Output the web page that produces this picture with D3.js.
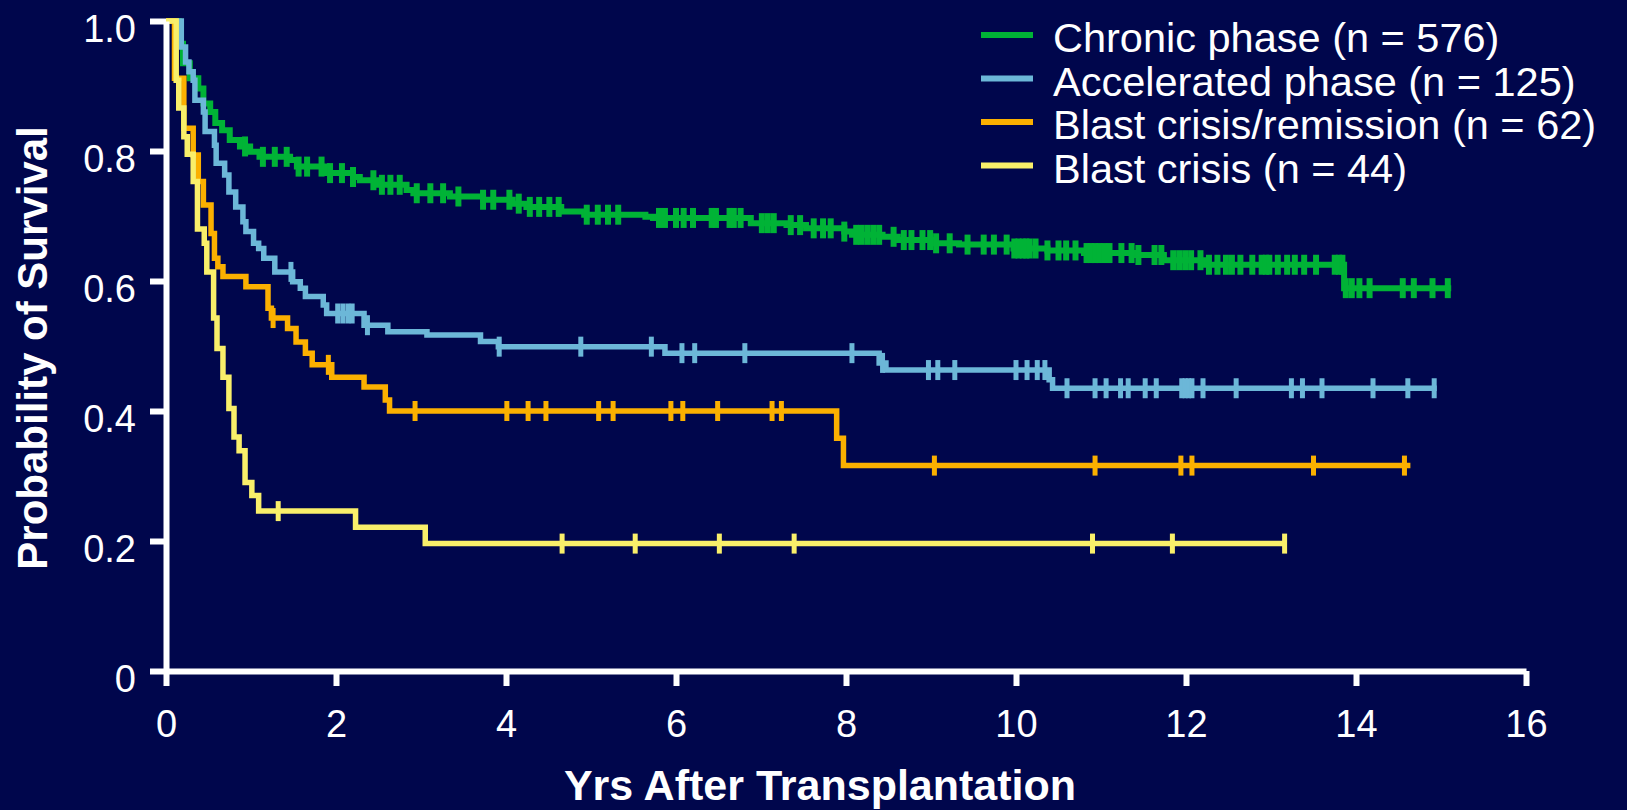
<!DOCTYPE html>
<html>
<head>
<meta charset="utf-8">
<script src="https://cdn.jsdelivr.net/npm/d3@7"></script>
<style>
  html, body { margin: 0; padding: 0; background: #00064c; }
  svg { display: block; }
  text { font-family: Arial, "Liberation Sans", sans-serif; fill: #fff; }
</style>
</head>
<body>
<svg width="1627" height="810"></svg>
<script>
// Kaplan-Meier curves, values (years, probability)
var seriesNames = ["Chronic phase (n = 576)", "Accelerated phase (n = 125)",
                   "Blast crisis/remission (n = 62)", "Blast crisis (n = 44)"];
var seriesColors = ["#00b336", "#6cb7d8", "#fbb000", "#f9ef6a"];

// chronic phase
var chronicT = [0.15, 0.2, 0.28, 0.38, 0.44, 0.52, 0.58, 0.66, 0.75, 0.87, 0.99, 1.1, 1.46, 1.54, 1.89,
                2.2, 2.28, 2.48, 2.83, 2.91, 3.34, 3.73, 4.08, 4.24, 4.65, 4.92, 5.64, 5.73, 6.88, 7.3,
                7.53, 7.98, 8.07, 8.43, 8.61, 9.02, 9.33, 9.97, 10.37, 10.8, 11.4, 11.74, 12.22, 13.86];
var chronicS = [0.965, 0.935, 0.912, 0.896, 0.873, 0.86, 0.843, 0.832, 0.817, 0.807, 0.799, 0.791, 0.786, 0.776, 0.766,
                0.76, 0.755, 0.748, 0.74, 0.735, 0.73, 0.725, 0.719, 0.714, 0.707, 0.702, 0.699, 0.697, 0.689, 0.686,
                0.681, 0.676, 0.671, 0.668, 0.663, 0.658, 0.656, 0.65, 0.647, 0.643, 0.64, 0.632, 0.625, 0.589];
var chronicCens = [0.93, 1.14, 1.28, 1.42, 1.56, 1.66, 1.83, 1.93, 2.07, 2.2, 2.44, 2.54, 2.64, 2.75, 2.95, 3.11,
                   3.26, 3.44, 3.73, 3.85, 4.04, 4.15, 4.28, 4.39, 4.51, 4.62, 4.95, 5.08, 5.2, 5.32, 5.8, 5.87,
                   6.0, 6.09, 6.2, 6.42, 6.47, 6.63, 6.68, 6.76, 7.01, 7.08, 7.15, 7.35, 7.46, 7.62, 7.73, 7.82,
                   7.98, 8.12, 8.18, 8.25, 8.32, 8.39, 8.56, 8.68, 8.77, 8.9, 8.99, 9.06, 9.22, 9.43, 9.62, 9.74,
                   9.89, 9.98, 10.03, 10.08, 10.12, 10.16, 10.23, 10.37, 10.5, 10.59, 10.7, 10.83, 10.88, 10.93,
                   10.98, 11.04, 11.1, 11.24, 11.36, 11.44, 11.63, 11.71, 11.85, 11.92, 11.99, 12.06, 12.17,
                   12.27, 12.37, 12.47, 12.54, 12.64, 12.78, 12.89, 12.94, 12.98, 13.08, 13.19, 13.28, 13.39,
                   13.53, 13.75, 13.8, 13.84, 13.88, 13.95, 14.04, 14.16, 14.55, 14.68, 14.9, 15.08];
var chronicEnd = 15.12;

// accelerated phase
var accelT = [0.18, 0.23, 0.27, 0.32, 0.34, 0.44, 0.46, 0.57, 0.59, 0.69, 0.74, 0.82, 0.905, 0.94, 1.03, 1.09,
              1.15, 1.28, 1.49, 1.58, 1.64, 1.85, 1.89, 2.33, 2.61, 3.07, 3.7, 3.91, 5.87, 8.39, 8.47, 10.39, 10.43];
var accelS = [0.96, 0.937, 0.922, 0.909, 0.878, 0.86, 0.83, 0.809, 0.781, 0.763, 0.737, 0.714, 0.691, 0.676, 0.658, 0.65,
              0.635, 0.614, 0.599, 0.589, 0.576, 0.563, 0.55, 0.532, 0.522, 0.517, 0.507, 0.499, 0.489, 0.474, 0.463, 0.448, 0.435];
var accelCens = [1.47, 2.02, 2.08, 2.14, 2.19, 2.37, 3.92, 4.88, 5.71, 6.07, 6.22, 6.81, 8.07, 8.43, 8.97, 9.08,
                 9.28, 10.0, 10.13, 10.25, 10.34, 10.6, 10.93, 11.06, 11.23, 11.32, 11.52, 11.65, 11.95, 11.99,
                 12.03, 12.07, 12.2, 12.59, 13.24, 13.37, 13.6, 14.2, 14.61, 14.92];
var accelEnd = 14.95;

// blast crisis / remission
var remisT = [0.1, 0.21, 0.32, 0.38, 0.44, 0.53, 0.57, 0.61, 0.67, 0.94, 1.2, 1.24, 1.43, 1.53, 1.64, 1.72,
              1.95, 2.33, 2.58, 2.63, 7.89, 7.97];
var remisS = [0.912, 0.835, 0.794, 0.753, 0.717, 0.673, 0.635, 0.622, 0.607, 0.591, 0.558, 0.543, 0.527, 0.506, 0.489, 0.471,
              0.452, 0.437, 0.417, 0.4, 0.358, 0.316];
var remisCens = [1.26, 1.91, 2.93, 4.01, 4.26, 4.47, 5.09, 5.26, 5.94, 6.08, 6.49, 7.13, 7.24, 9.04, 10.93,
                 11.94, 12.07, 13.5, 14.57];
var remisEnd = 14.64;

// blast crisis
var blastT = [0.12, 0.15, 0.21, 0.25, 0.32, 0.37, 0.45, 0.48, 0.56, 0.6, 0.67, 0.74, 0.8, 0.86, 0.93, 1.01, 1.09, 2.23, 3.05];
var blastS = [0.909, 0.866, 0.822, 0.795, 0.753, 0.68, 0.658, 0.614, 0.543, 0.496, 0.452, 0.404, 0.36, 0.339, 0.29, 0.27, 0.246, 0.221, 0.196];
var blastCens = [1.32, 4.66, 5.52, 6.51, 7.39, 10.9, 11.84, 13.16];
var blastEnd = 13.16;

var xTicks = [0, 2, 4, 6, 8, 10, 12, 14, 16];
var yTicks = [0, 0.2, 0.4, 0.6, 0.8, 1.0];
var yTickLabels = ["0", "0.2", "0.4", "0.6", "0.8", "1.0"];

var series = [
    {t: chronicT, s: chronicS, cens: chronicCens, end: chronicEnd},
    {t: accelT, s: accelS, cens: accelCens, end: accelEnd},
    {t: remisT, s: remisS, cens: remisCens, end: remisEnd},
    {t: blastT, s: blastS, cens: blastCens, end: blastEnd}
];

var svg = d3.select("svg"),
    margin = {top: 21, right: 101, bottom: 139, left: 166},
    width = +svg.attr("width") - margin.left - margin.right,
    height = +svg.attr("height") - margin.top - margin.bottom;

var x = d3.scaleLinear().domain([0, 16]).range([0, width]),
    y = d3.scaleLinear().domain([0, 1]).range([height, 0]);

var g = svg.append("g")
    .attr("transform", "translate(" + margin.left + "," + margin.top + ")");

// survival at a given time from the step data
function survAt(d, t) {
    var s = 1;
    for (var i = 0; i < d.t.length; i++) {
        if (d.t[i] <= t) s = d.s[i];
    }
    return s;
}

var line = d3.line()
    .x(function (p) { return x(p[0]); })
    .y(function (p) { return y(p[1]); })
    .curve(d3.curveStepAfter);

series.forEach(function (d, k) {
    var pts = [[0, 1]];
    d.t.forEach(function (t, i) { pts.push([t, d.s[i]]); });
    pts.push([d.end, d.s[d.s.length - 1]]);

    g.append("path")
        .datum(pts)
        .attr("fill", "none")
        .attr("stroke", seriesColors[k])
        .attr("stroke-width", k === 0 ? 6 : 5.5)
        .attr("d", line);

    g.selectAll(".cens" + k)
        .data(d.cens)
        .enter().append("line")
        .attr("class", "cens" + k)
        .attr("x1", function (c) { return x(c); })
        .attr("x2", function (c) { return x(c); })
        .attr("y1", function (c) { return y(survAt(d, c)) - 10; })
        .attr("y2", function (c) { return y(survAt(d, c)) + 10; })
        .attr("stroke", seriesColors[k])
        .attr("stroke-width", k === 0 ? 6 : 5);
});

// axes
var yAxis = g.append("g")
    .attr("color", "#fff")
    .call(d3.axisLeft(y).tickValues(yTicks).tickSize(16).tickSizeOuter(0).tickPadding(14)
        .tickFormat(function (d, i) { return yTickLabels[i]; }));

var xAxis = g.append("g")
    .attr("color", "#fff")
    .attr("transform", "translate(0," + height + ")")
    .call(d3.axisBottom(x).tickValues(xTicks).tickSize(15).tickSizeOuter(0).tickPadding(24));

[yAxis, xAxis].forEach(function (a) {
    a.select(".domain").attr("stroke-width", 6);
    a.selectAll(".tick line").attr("stroke-width", 6);
    a.selectAll(".tick text")
        .style("font-family", "Arial, 'Liberation Sans', sans-serif")
        .style("font-size", "38px")
        .attr("fill", "#fff");
});
yAxis.selectAll(".tick text").attr("dy", "0.54em");

svg.append("text")
    .attr("x", 820)
    .attr("y", 800)
    .attr("text-anchor", "middle")
    .style("font-size", "43px")
    .style("font-weight", "bold")
    .text("Yrs After Transplantation");

svg.append("text")
    .attr("transform", "translate(47,348) rotate(-90)")
    .attr("text-anchor", "middle")
    .style("font-size", "42px")
    .style("font-weight", "bold")
    .text("Probability of Survival");

// legend
var legend = svg.append("g")
    .attr("transform", "translate(981,35)");

var item = legend.selectAll(".item")
    .data(seriesNames)
    .enter().append("g")
    .attr("class", "item")
    .attr("transform", function (d, i) { return "translate(0," + (i * 43.5) + ")"; });

item.append("line")
    .attr("x1", 0)
    .attr("x2", 52)
    .attr("stroke", function (d, i) { return seriesColors[i]; })
    .attr("stroke-width", 6);

item.append("text")
    .attr("x", 72)
    .attr("y", 17)
    .style("font-size", "41.5px")
    .text(function (d) { return d; });
</script>
</body>
</html>
